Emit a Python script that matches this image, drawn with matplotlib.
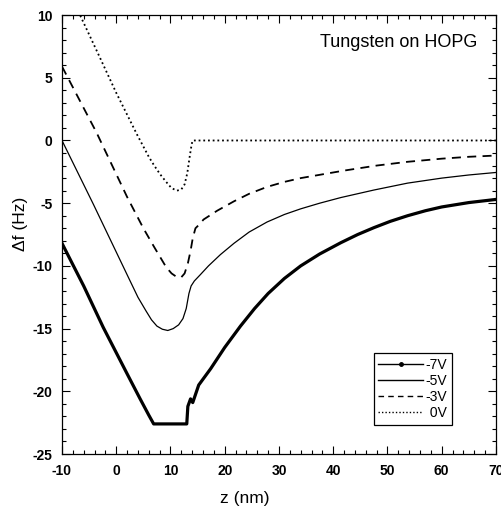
import matplotlib
matplotlib.use("Agg")
import matplotlib.pyplot as plt
from matplotlib.lines import Line2D
from matplotlib.ticker import MultipleLocator

plt.rcParams['font.family'] = ['Liberation Sans', 'DejaVu Sans']
plt.rcParams['axes.unicode_minus'] = False

# -7V
z7 = [-10, -6, -2.4, 2, 4.4, 6.0, 6.9, 13.0, 13.2, 13.7, 14.1, 15.2, 17.4, 20, 22.9, 25.5, 28, 31, 34, 37.5,
      41.4, 44.5, 47.5, 50.5, 53.7, 57, 60, 65, 70]
y7 = [-8.2, -11.6, -14.9, -18.6, -20.6, -21.9, -22.6, -22.6, -21.2, -20.6, -20.9, -19.5, -18.2, -16.5, -14.8, -13.4,
      -12.2, -11.0, -10.0, -9.05, -8.15, -7.5, -6.95, -6.45, -6.0, -5.6, -5.3, -4.95, -4.7]
# -5V
z5 = [-10, -4.2, 2, 4, 5.5, 6.5, 7.5, 8.5, 9.5, 10.5, 11.5, 12.3, 12.9, 13.4, 13.8, 14.4, 15.5, 17, 19.2, 21.7,
      24.5, 27.8, 31, 34, 37.5, 41.4, 47.5, 53.7, 60, 65, 70]
y5 = [0, -5.1, -10.7, -12.5, -13.6, -14.3, -14.8, -15.05, -15.15, -15.0, -14.7, -14.2, -13.4, -12.2, -11.6, -11.2,
      -10.7, -10.0, -9.1, -8.2, -7.3, -6.5, -5.9, -5.45, -5.0, -4.55, -3.95, -3.4, -3.0, -2.75, -2.55]
# -3V
z3 = [-10, -6.5, -3.6, 2, 5, 7, 8.1, 9.2, 10.2, 11.2, 12, 12.6, 13.2, 13.7, 14.1, 14.6, 15.3, 16.1, 18.6, 21.7,
      24.5, 27.8, 31, 34, 38, 42, 48, 53.7, 60, 65, 70]
y3 = [5.9, 3.0, 0.6, -4.5, -7.0, -8.5, -9.3, -10.1, -10.6, -10.9, -10.9, -10.6, -9.8, -8.8, -7.8, -7.0, -6.7, -6.3,
      -5.6, -4.85, -4.25, -3.7, -3.3, -3.0, -2.7, -2.4, -2.0, -1.7, -1.45, -1.3, -1.2]
# 0V
z0 = [-7.0, -3, 0, 3.8, 6, 7, 8.1, 9.2, 10.2, 11.2, 12, 12.6, 13.1, 13.5, 13.9, 14.1, 30, 50, 70]
y0 = [10.3, 6.6, 3.8, 0.5, -1.3, -2.0, -2.7, -3.3, -3.8, -4.0, -3.9, -3.5, -2.6, -1.4, -0.3, 0, 0, 0, 0]

labels = ['-7V', '-5V', '-3V', ' 0V']
xticks = [-10, 0, 10, 20, 30, 40, 50, 60, 70]
yticks = [10, 5, 0, -5, -10, -15, -20, -25]

fig = plt.figure(figsize=(5.02, 5.11), dpi=100)
ax = fig.add_axes([0.1235, 0.1115, 0.8645, 0.859])

ax.plot(z7, y7, color='black', lw=2.3, solid_joinstyle='round')
ax.plot(z5, y5, color='black', lw=0.9)
ax.plot(z3, y3, color='black', lw=1.3, dashes=(5, 3.5))
ax.plot(z0, y0, color='black', lw=1.3, linestyle=(0, (1, 1.6)))

ax.set_xlim(-10, 70)
ax.set_ylim(-25, 10)
ax.set_xticks(xticks)
ax.set_yticks(yticks)
ax.xaxis.set_minor_locator(MultipleLocator(2))
ax.yaxis.set_minor_locator(MultipleLocator(1))
ax.tick_params(which='both', direction='in', top=True, right=True, width=0.8)
ax.tick_params(which='major', length=6, labelsize=10, pad=7)
ax.tick_params(which='minor', length=3)
for lab in ax.get_xticklabels() + ax.get_yticklabels():
    lab.set_fontweight('bold')
for s in ax.spines.values():
    s.set_linewidth(0.9)

ax.set_xlabel('z (nm)', fontsize=12.5)
ax.xaxis.set_label_coords(0.42, -0.085)
ax.set_ylabel('Δf (Hz)', fontsize=12.5)
ax.yaxis.set_label_coords(-0.078, 0.524)

ax.text(0.956, 0.938, 'Tungsten on HOPG', transform=ax.transAxes,
        ha='right', va='center', fontsize=13)

handles = [
    Line2D([], [], color='black', lw=1.0, marker='o', markersize=2.5, markevery=[1]),
    Line2D([], [], color='black', lw=1.0),
    Line2D([], [], color='black', lw=1.0, dashes=(4, 3)),
    Line2D([], [], color='black', lw=1.0, linestyle=(0, (1, 1.5))),
]
for h in handles:
    h.set_data([0, 0.5, 1], [0, 0, 0])
leg = ax.legend(handles, labels, loc='lower right', bbox_to_anchor=(0.899, 0.066),
                fontsize=10, handlelength=3.2, handletextpad=0.2, labelspacing=0.15,
                borderpad=0.35, borderaxespad=0, fancybox=False, frameon=True,
                edgecolor='black', framealpha=1)
leg.get_frame().set_linewidth(0.9)

fig.savefig('out.png', dpi=100)
